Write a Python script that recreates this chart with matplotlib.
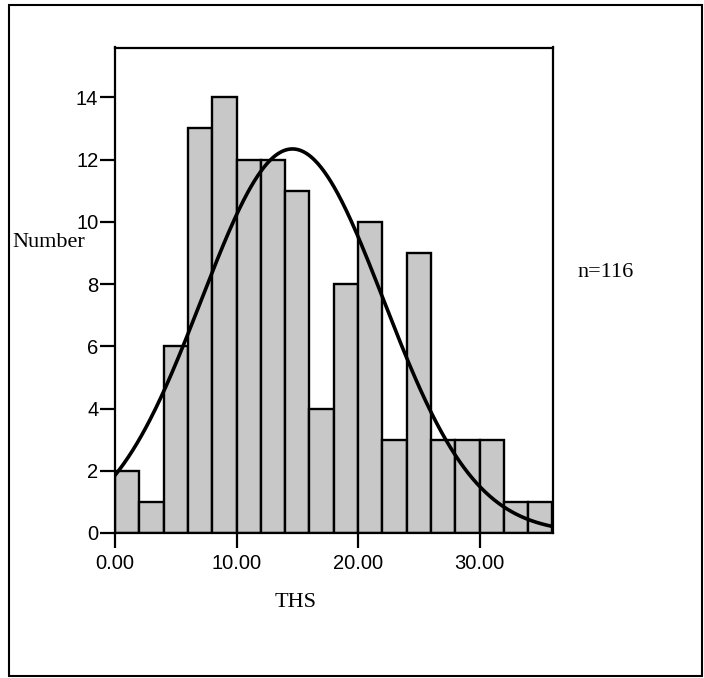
import numpy as np
import matplotlib
matplotlib.use("Agg")
import matplotlib.pyplot as plt
from matplotlib.patches import Rectangle

# ---------------------------- data ----------------------------
bin_left = [0, 2, 4, 6, 8, 10, 12, 14, 16, 18, 20, 22, 24, 26, 28, 30, 32, 34]
counts = [2, 1, 6, 13, 14, 12, 12, 11, 4, 8, 10, 3, 9, 3, 3, 3, 1, 1]
bin_width = 2.0
n_total = 116
fit_mean = 14.6   # fitted normal curve
fit_sd = 7.5

x_ticks = [0, 10, 20, 30]
x_ticklabels = ['0.00', '10.00', '20.00', '30.00']
y_ticks = [0, 2, 4, 6, 8, 10, 12, 14]

serif = 'Liberation Serif'
sans = 'Liberation Sans'

# ---------------------------------- figure ----------------------------------
fig = plt.figure(figsize=(7.04, 6.78), dpi=100)
ax = fig.add_axes([115 / 704, 1 - 533 / 678, 437.5 / 704, 485.5 / 678])

ax.bar(bin_left, counts, width=bin_width, align='edge', color='#c8c8c8',
       edgecolor='black', linewidth=1.7, zorder=2)

xs = np.linspace(0, 36, 400)
curve = n_total * bin_width / (fit_sd * np.sqrt(2 * np.pi)) * np.exp(-(xs - fit_mean) ** 2 / (2 * fit_sd ** 2))
ax.plot(xs, curve, color='black', lw=2.6, zorder=3)

ax.set_xlim(0, 36)
ax.set_ylim(0, 15.6)
ax.set_xticks(x_ticks)
ax.set_xticklabels(x_ticklabels)
ax.set_yticks(y_ticks)
ax.tick_params(axis='both', direction='out', length=11, width=1.6, labelsize=14.5)
ax.tick_params(axis='x', pad=4)
ax.tick_params(axis='y', pad=1)
for lab in ax.get_xticklabels() + ax.get_yticklabels():
    lab.set_fontfamily(sans)
for sp in ax.spines.values():
    sp.set_linewidth(1.6)

# labels placed as in the original layout
fig.text(12 / 704, 1 - 247 / 678, 'Number', fontsize=16, family=serif, ha='left', va='baseline')
fig.text(296 / 704, 1 - 607 / 678, 'THS', fontsize=16, family=serif, ha='center', va='baseline')
fig.text(577 / 704, 1 - 277 / 678, 'n=116', fontsize=16, family=serif, ha='left', va='baseline')

# outer frame
fig.patches.append(Rectangle((9 / 704, 1 - 676 / 678), 693 / 704, 671 / 678,
                             transform=fig.transFigure, fill=False, edgecolor='black', linewidth=1.5))

fig.savefig('out.png', dpi=100)
